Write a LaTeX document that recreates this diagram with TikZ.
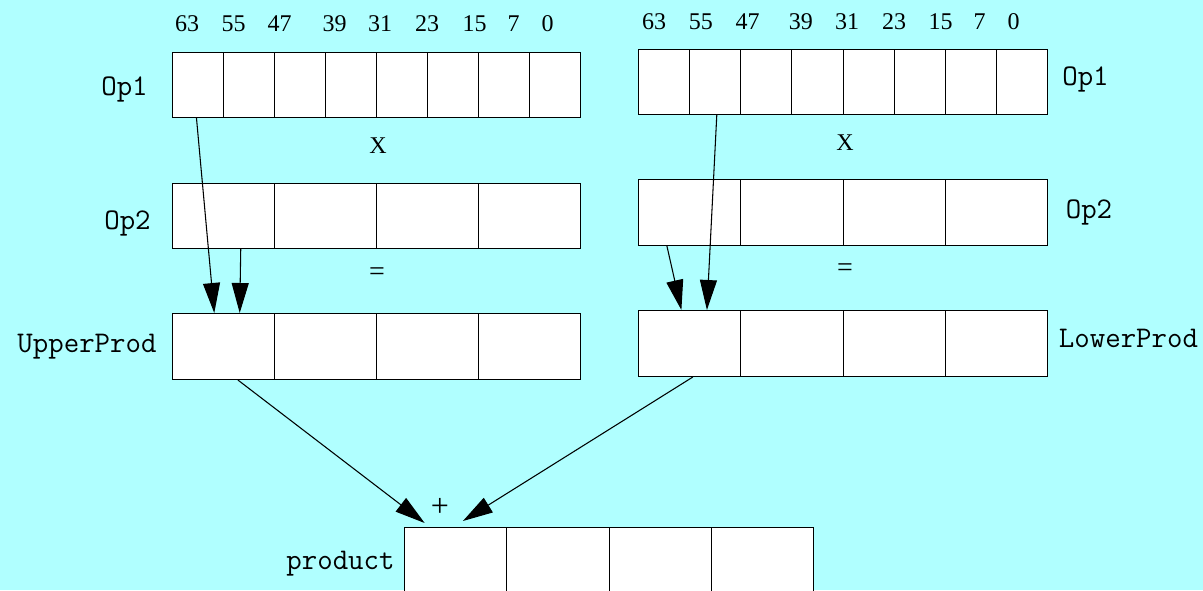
\documentclass[tikz,border=0pt]{standalone}
\usepackage{fontspec}
\setmainfont{Liberation Serif}
\usetikzlibrary{arrows.meta,calc}
\definecolor{bg}{RGB}{176,255,255}
\newcommand\cellrow[6]{%
  \foreach \i in {1,...,#4}{
    \node[cell,minimum width=#5*0.75pt,minimum height=#6*0.75pt] (#1-\i) at ({#2+(\i-1)*#5},#3) {};
  }}
\begin{document}
\begin{tikzpicture}[x=0.75pt,y=-0.75pt,
  cell/.style={draw=black,fill=white,line width=0.8pt,inner sep=0pt,anchor=north west},
  lbl/.style={font=\fontsize{22.5}{26}\selectfont\ttfamily,anchor=base,inner sep=0pt},
  bit/.style={font=\fontsize{18}{21}\selectfont,anchor=base,inner sep=0pt},
  sym/.style={font=\fontsize{21}{24}\selectfont,inner sep=0pt},
  arr/.style={-{Triangle[length=22.5pt,width=12.75pt]},line width=0.8pt}]
\fill[bg] (0,0) rectangle (1203,590);
\clip (0,0) rectangle (1203,590);
% rows of cells
\cellrow{LA}{172}{52}{8}{51}{65}
\cellrow{LB}{172}{183}{4}{102}{65}
\cellrow{LC}{172}{313}{4}{102}{66}
\cellrow{RA}{638}{49}{8}{51.125}{65}
\cellrow{RB}{638}{179}{4}{102.25}{66}
\cellrow{RC}{638}{310}{4}{102.25}{66}
\cellrow{P}{404}{527}{4}{102.25}{100}
% bit numbers
\foreach \n/\x in {63/187,55/233.5,47/279.5,39/334.5,31/380,23/427,15/474.5,7/513.5,0/547.5}
  \node[bit] (lbit\n) at (\x,31.5) {\n};
\foreach \n/\x in {63/654,55/700.8,47/747.5,39/800.8,31/847,23/894,15/940.5,7/979.5,0/1013.5}
  \node[bit] (rbit\n) at (\x,29.3) {\n};
% labels
\node[lbl] (lop1) at (124.5,95) {Op1};
\node[lbl] (lop2) at (127.5,229) {Op2};
\node[lbl] (lup) at (87,352) {UpperProd};
\node[lbl] (prod) at (340.5,569) {product};
\node[lbl] (rop1) at (1085.5,85) {Op1};
\node[lbl] (rop2) at (1089,218) {Op2};
\node[lbl] (rlow) at (1128.5,347.5) {LowerProd};
% operators
\node[bit] (lx) at (378,153) {X};
\node[bit] (rx) at (845,150) {X};
\node[sym] (leq) at (377,274) {=};
\node[sym] (req) at (845,270) {=};
\node[sym,font=\fontsize{24}{28}\selectfont] (plus) at (440,507) {+};
% connectors
\draw[arr] ($(LA-1.south west)!0.47!(LA-1.south east)$) -- ($(LC-1.north west)!0.41!(LC-1.north east)$);
\draw[arr] ($(LB-1.south west)!0.667!(LB-1.south east)$) -- ($(LC-1.north west)!0.657!(LC-1.north east)$);
\draw[arr] ($(RA-2.south west)!0.53!(RA-2.south east)$) -- ($(RC-1.north west)!0.667!(RC-1.north east)$);
\draw[arr] ($(RB-1.south west)!0.28!(RB-1.south east)$) -- ($(RC-1.north west)!0.42!(RC-1.north east)$);
\draw[arr] ($(LC-1.south west)!0.64!(LC-1.south east)$) -- ($(P-1.north west)!0.2!(P-1.north east)+(0,-4)$);
\draw[arr] ($(RC-1.south west)!0.53!(RC-1.south east)$) -- ($(P-1.north west)!0.57!(P-1.north east)+(0,-6)$);
\end{tikzpicture}
\end{document}
